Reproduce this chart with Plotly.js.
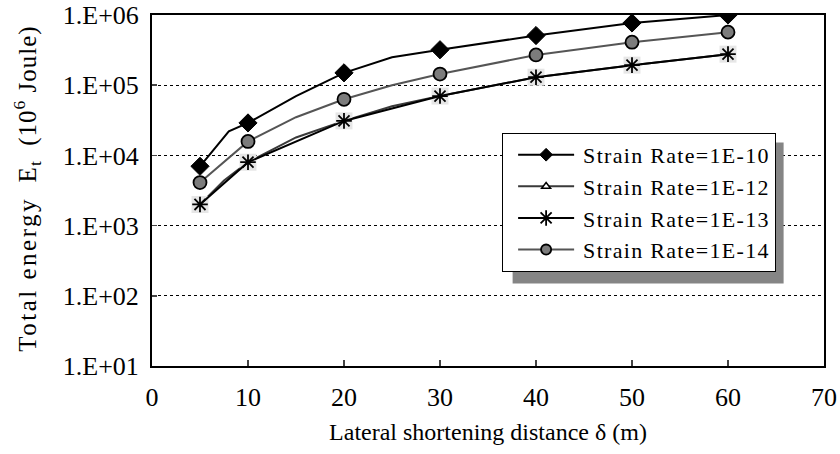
<!DOCTYPE html>
<html>
<head>
<meta charset="utf-8">
<script src="https://cdn.plot.ly/plotly-3.0.1.min.js"></script>
<style>
html,body{margin:0;padding:0;background:#fff;}
#chart{width:840px;height:454px;}
</style>
</head>
<body>
<div id="chart"></div>
<script>
// Data
var names = ['Strain Rate=1E-10', 'Strain Rate=1E-12', 'Strain Rate=1E-13', 'Strain Rate=1E-14'];
var markedX = [5, 10, 20, 30, 40, 50, 60];

var x10 = [5, 8, 10, 15, 20, 25, 30, 40, 50, 60];
var y10 = [7000, 22000, 29000, 70000, 150000, 250000, 320000, 510000, 770000, 1000000];

var x12 = [5, 7.5, 10, 15, 20, 25, 30, 40, 50, 60];
var y12 = [2000, 4400, 8000, 18000, 31000, 50000, 70000, 130000, 193000, 277000];

var x13 = [5, 10, 20, 30, 40, 50, 60];
var y13 = [2000, 8000, 31000, 70000, 130000, 193000, 277000];

var x14 = [5, 10, 15, 20, 25, 30, 40, 50, 60];
var y14 = [4100, 15800, 35000, 63000, 100000, 144000, 270000, 410000, 570000];

var yTickVals = [10, 100, 1000, 10000, 100000, 1000000];
var yTickText = ['1.E+01', '1.E+02', '1.E+03', '1.E+04', '1.E+05', '1.E+06'];
var xTickVals = [0, 10, 20, 30, 40, 50, 60, 70];

function sizes(xs, s) {
  return xs.map(function (v) { return markedX.indexOf(v) >= 0 ? s : 0; });
}
function legName(n) { return '<span style="letter-spacing:1.3px">' + n + '</span>'; }

var FONT = 'Liberation Serif, Times New Roman, serif';
var NB = '\u00A0';

var traces = [
  {
    x: x10, y: y10, name: legName(names[0]), mode: 'lines+markers',
    line: {color: '#000000', width: 2},
    marker: {symbol: 'diamond', size: sizes(x10, 14), color: '#000000', opacity: 1,
             line: {color: '#000000', width: 1}}
  },
  {
    x: x12, y: y12, name: legName(names[1]), mode: 'lines+markers',
    line: {color: '#3a3a3a', width: 2},
    marker: {symbol: 'triangle-up', size: sizes(x12, 11), color: '#ffffff', opacity: 1,
             line: {color: '#000000', width: 1.5}}
  },
  {
    x: x13, y: y13, name: names[2], mode: 'markers', showlegend: false, hoverinfo: 'skip',
    marker: {symbol: 'square', size: 17, color: '#e6e6e6', opacity: 1, line: {width: 0}}
  },
  {
    x: x13, y: y13, name: legName(names[2]), mode: 'lines+markers',
    line: {color: '#000000', width: 2},
    marker: {symbol: 'asterisk-open', size: 13, color: '#000000', opacity: 1,
             line: {color: '#000000', width: 1.8}}
  },
  {
    x: x14, y: y14, name: legName(names[3]), mode: 'lines+markers',
    line: {color: '#555555', width: 2},
    marker: {symbol: 'circle', size: sizes(x14, 13), color: '#7c7c7c', opacity: 1,
             line: {color: '#000000', width: 1.8}}
  }
];

var yTitle = '<span style="letter-spacing:1px"><span style="letter-spacing:2.5px">Total energy</span>' + NB + NB +
             'E<sub>t</sub>' + NB + NB + '(10<sup>6</sup>' + NB + 'Joule)</span>';

var layout = {
  width: 840, height: 454,
  margin: {l: 152, r: 16, t: 15, b: 88},
  paper_bgcolor: '#ffffff', plot_bgcolor: '#ffffff',
  font: {family: FONT, color: '#000000', size: 24},
  showlegend: true,
  legend: {
    x: 0.521, y: 0.664, xanchor: 'left', yanchor: 'top',
    bgcolor: '#ffffff', bordercolor: '#000000', borderwidth: 1,
    font: {family: FONT, size: 22, color: '#000000'},
    tracegroupgap: 0, itemwidth: 70
  },
  xaxis: {
    range: [0, 70], tickvals: xTickVals, ticks: 'inside', ticklen: 6, tickwidth: 1.5,
    showline: true, mirror: true, linecolor: '#000000', linewidth: 2,
    showgrid: false, zeroline: false, ticklabelstandoff: 7,
    tickfont: {family: FONT, size: 26},
    title: {text: 'Lateral shortening distance δ (m)', font: {family: FONT, size: 24}, standoff: 12}
  },
  yaxis: {
    type: 'log', range: [1, 6], tickvals: yTickVals, ticktext: yTickText,
    ticks: 'inside', ticklen: 5, tickwidth: 1.5,
    showline: true, mirror: true, linecolor: '#000000', linewidth: 2,
    showgrid: true, gridcolor: '#000000', gridwidth: 1, griddash: 'dot',
    zeroline: false, ticklabelstandoff: 6,
    tickfont: {family: FONT, size: 26}
  },
  annotations: [
    {text: yTitle, xref: 'paper', yref: 'paper', x: (27 - 152) / 672, y: 0.505,
     xanchor: 'center', yanchor: 'middle', textangle: -90, showarrow: false,
     font: {family: FONT, size: 25, color: '#000000'}}
  ],
  shapes: []
};

function stretchLegendSymbols(gd) {
  gd.querySelectorAll('.legend .legendlines path').forEach(function (p) {
    p.setAttribute('d', 'M15,0h56');
  });
  gd.querySelectorAll('.legend .legendpoints path.scatterpts').forEach(function (p) {
    p.setAttribute('transform', 'translate(43,0)');
  });
}

Plotly.newPlot('chart', traces, layout, {displayModeBar: false, staticPlot: true}).then(function (gd) {
  // grey drop shadow behind the legend box (as in the reference)
  var bg = gd.querySelector('.legend .bg');
  if (!bg) return;
  var r = bg.getBoundingClientRect();
  var c = gd.getBoundingClientRect();
  var L = r.left - c.left, R = r.right - c.left, T = r.top - c.top, B = r.bottom - c.top;
  var fs = gd._fullLayout._size;
  function px(v) { return (v - fs.l) / fs.w; }
  function py(v) { return 1 - (v - fs.t) / fs.h; }
  return Plotly.relayout(gd, {shapes: [{
    type: 'rect', xref: 'paper', yref: 'paper', layer: 'above',
    x0: px(L + 10), x1: px(R + 8), y0: py(B + 12), y1: py(T + 9),
    fillcolor: '#858585', line: {width: 0}
  }]}).then(function () { stretchLegendSymbols(gd); });
});
</script>
</body>
</html>
